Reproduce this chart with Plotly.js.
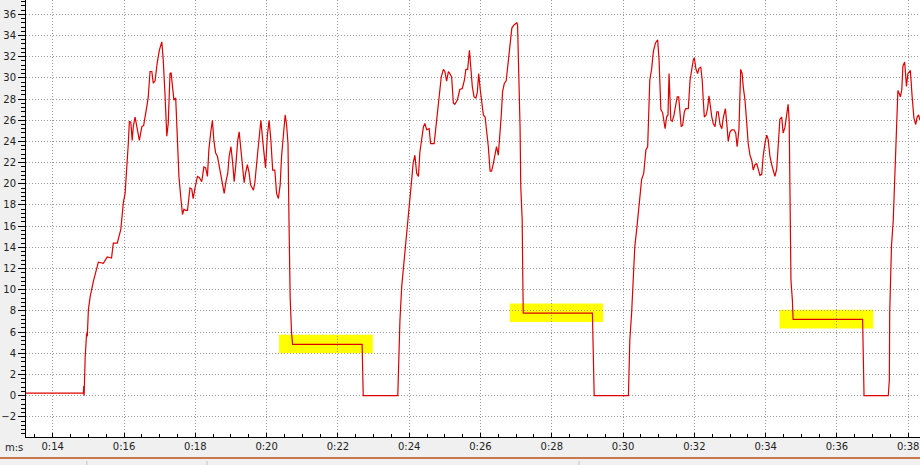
<!DOCTYPE html>
<html>
<head>
<meta charset="utf-8">
<script src="https://cdn.plot.ly/plotly-3.0.1.min.js"></script>
<style>html,body{margin:0;padding:0;background:#f0f0f0;}#chart{width:920px;height:465px;}</style>
</head>
<body>
<div id="chart"></div>
<script>
// time in seconds
const timeSec = [
13.25,14.86,14.87,14.88,14.91,14.95,14.97,15.00,15.05,15.14,15.28,15.42,15.53,15.65,15.70,15.81,15.91,15.98,16.03,16.08,16.12,16.15,16.19,16.23,16.26,16.31,16.37,16.43,16.50,16.55,16.64,16.68,16.73,16.78,16.82,16.87,16.93,16.99,17.06,17.10,17.15,17.20,17.24,17.29,17.32,17.37,17.40,17.45,17.50,17.54,17.59,17.64,17.68,17.73,17.78,17.85,17.90,17.94,17.99,18.06,18.11,18.18,18.24,18.29,18.34,18.38,18.43,18.48,18.52,18.57,18.62,18.67,18.74,18.81,18.86,18.91,18.95,19.00,19.05,19.09,19.14,19.19,19.23,19.27,19.32,19.37,19.41,19.46,19.51,19.55,19.63,19.67,19.74,19.80,19.84,19.89,19.94,19.97,20.02,20.07,20.12,20.17,20.23,20.28,20.33,20.38,20.42,20.47,20.52,20.56,20.60,20.63,20.66,20.70,20.73,
22.68,22.69,22.71,23.68,23.69,23.74,23.79,23.88,23.93,23.97,24.02,24.07,24.11,24.16,24.21,24.26,24.30,24.35,24.40,24.44,24.49,24.56,24.60,24.70,24.77,24.84,24.90,24.96,25.00,25.05,25.10,25.14,25.19,25.24,25.28,25.35,25.42,25.49,25.55,25.59,25.64,25.69,25.72,25.77,25.82,25.87,25.91,25.95,25.99,26.03,26.08,26.13,26.17,26.22,26.27,26.31,26.36,26.41,26.45,26.50,26.53,26.58,26.62,26.67,26.72,26.78,26.83,26.88,26.94,27.02,27.04,27.06,27.11,27.13,27.17,27.19,27.20,
29.14,29.16,29.19,30.15,30.17,30.19,30.24,30.29,30.33,30.38,30.43,30.47,30.52,30.58,30.64,30.69,30.72,30.75,30.80,30.85,30.91,30.97,31.01,31.04,31.06,31.11,31.16,31.18,31.22,31.26,31.29,31.32,31.34,31.38,31.43,31.48,31.52,31.56,31.60,31.63,31.67,31.72,31.76,31.83,31.88,31.92,31.97,32.00,32.04,32.09,32.13,32.18,32.22,32.25,32.28,32.33,32.37,32.41,32.44,32.49,32.53,32.58,32.63,32.67,32.72,32.77,32.81,32.87,32.91,32.95,33.00,33.05,33.11,33.16,33.20,33.25,33.30,33.34,33.37,33.42,33.47,33.51,33.56,33.61,33.65,33.70,33.75,33.79,33.84,33.89,33.93,33.98,34.03,34.07,34.12,34.17,34.21,34.26,34.31,34.35,34.40,34.45,34.49,34.54,34.59,34.63,34.66,34.68,34.71,34.75,34.77,
36.72,36.74,36.76,37.44,37.47,37.48,37.53,37.58,37.60,37.64,37.67,37.71,37.75,37.78,37.82,37.85,37.90,37.95,37.99,38.06,38.11,38.16,38.21,38.25,38.29,38.33
];
const values = [
0.25,0.25,0.9,0.0,3.6,5.9,5.6,8.1,9.35,10.8,12.6,12.5,13.1,13.0,14.4,14.4,15.7,18.2,19.1,21.3,23.8,25.9,25.8,24.1,25.4,26.3,25.1,24.1,25.4,25.5,27.3,28.2,30.6,30.6,29.5,29.7,31.4,32.6,33.4,31.7,28.4,24.5,25.7,30.4,30.5,28.9,27.9,28.1,23.8,20.7,18.8,17.1,17.6,17.5,17.5,19.6,19.5,18.6,19.6,20.7,20.6,20.2,21.6,21.5,20.7,23.2,24.8,26.0,24.1,22.9,22.6,21.6,20.4,19.1,20.2,21.0,22.6,23.5,21.9,20.2,21.9,24.1,24.9,23.5,21.9,20.1,21.0,21.8,21.0,19.9,19.4,20.1,22.6,25.1,26.0,24.1,22.6,21.5,24.5,26.0,24.1,21.3,21.3,19.1,18.6,19.9,22.6,24.5,26.5,25.6,23.8,16.0,9.35,5.9,4.85,
4.85,3.7,0,0,1.2,7.1,10.3,13.4,15.0,16.3,18.5,20.4,21.9,22.7,21.0,20.7,23.0,24.5,25.4,25.7,25.1,25.2,23.8,23.8,26.0,28.1,30.1,30.8,30.6,29.7,30.6,30.4,30.1,27.6,27.5,27.9,28.9,29.0,29.8,30.8,30.8,32.6,31.4,29.2,28.2,28.1,28.6,30.4,29.0,27.6,26.5,26.3,25.1,23.5,21.2,21.2,21.9,22.7,23.5,22.7,23.8,26.3,28.7,29.5,29.7,31.7,33.6,34.7,35.0,35.2,35.0,32.6,25.4,19.7,16.6,10.3,7.8,
7.8,4.3,0,0,1.8,5.3,7.8,10.9,14.1,15.6,17.5,18.6,20.4,21.0,23.2,23.5,26.7,29.8,30.8,32.5,33.3,33.6,31.7,29.2,27.0,26.7,25.7,25.2,26.3,26.5,30.4,28.2,26.0,25.9,26.5,27.5,28.2,28.2,26.3,25.4,25.5,26.8,27.1,27.1,29.8,30.9,31.7,31.9,30.9,30.4,30.9,31.0,29.8,27.9,26.3,26.5,27.1,28.3,27.3,26.3,25.7,25.4,26.8,26.8,25.6,25.2,26.2,27.1,25.7,24.0,24.9,25.1,25.1,24.8,23.5,25.1,30.8,30.4,29.2,27.9,25.7,23.8,22.7,22.2,21.3,21.8,21.9,21.3,20.8,20.9,22.6,23.8,24.6,24.2,22.6,21.8,21.3,20.7,21.4,23.6,26.1,26.3,24.8,25.3,26.5,27.5,26.0,19.4,10.9,9.0,7.2,
7.2,3.7,0,0,1.5,7.8,14.1,16.6,18.8,21.0,26.0,28.8,28.5,28.2,28.9,31.1,31.5,29.2,30.4,30.7,28.2,26.2,25.6,26.3,26.5,26.0
];
const tickSeconds = [14,16,18,20,22,24,26,28,30,32,34,36,38];
const tickLabels = ['0:14','0:16','0:18','0:20','0:22','0:24','0:26','0:28','0:30','0:32','0:34','0:36','0:38'];

// highlight rectangles derived from the flat plateaus in the data
const shapes = [];
for (let i = 0; i < timeSec.length - 1; i++) {
  if (values[i] > 1 && values[i] === values[i+1] && timeSec[i+1] - timeSec[i] > 1) {
    shapes.push({type:'rect', xref:'x', yref:'y', layer:'below',
      x0: timeSec[i] - 0.38, x1: timeSec[i+1] + 0.3,
      y0: values[i] - 0.85, y1: values[i] + 0.9,
      fillcolor:'#ffff00', line:{width:0}});
  }
}
// bottom status-bar style strip
shapes.push({type:'line', xref:'paper', yref:'paper', x0:-0.03, x1:1.01, y0:-0.048, y1:-0.048, line:{color:'#c8784a', width:2}});
[0.068, 0.2025, 0.6186].forEach(function(px){
  shapes.push({type:'line', xref:'paper', yref:'paper', x0:px, x1:px, y0:-0.055, y1:-0.07, line:{color:'#c4c4c4', width:1}});
});

const trace = {x: timeSec, y: values, type:'scatter', mode:'lines',
  line:{color:'#dd0000', width:1.2}, hoverinfo:'skip'};

const layout = {
  width:920, height:465,
  margin:{l:26, r:0, t:0, b:28},
  paper_bgcolor:'#f0f0f0', plot_bgcolor:'#ffffff',
  showlegend:false,
  font:{family:'DejaVu Sans', size:10, color:'#222'},
  xaxis:{range:[13.25,38.33], tickmode:'array', tickvals:tickSeconds, ticktext:tickLabels,
    showgrid:true, gridcolor:'#9a9a9a', griddash:'1px,2px', gridwidth:1,
    showline:true, linecolor:'#000', linewidth:1, zeroline:false,
    ticks:'inside', ticklen:4, tickcolor:'#000',
    minor:{tickmode:'linear', tick0:14, dtick:0.5, ticks:'inside', ticklen:3, tickcolor:'#000', showgrid:false},
    tickfont:{family:'DejaVu Sans', size:10, color:'#222'}},
  yaxis:{range:[-3.9,37.35], tickmode:'linear', tick0:0, dtick:2,
    showgrid:true, gridcolor:'#9a9a9a', griddash:'1px,2px', gridwidth:1,
    showline:true, linecolor:'#000', linewidth:1, zeroline:false,
    ticks:'outside', ticklen:7, tickcolor:'#000',
    minor:{tickmode:'linear', tick0:0, dtick:0.4, ticks:'outside', ticklen:4, tickcolor:'#000', showgrid:false},
    tickfont:{family:'DejaVu Sans', size:10, color:'#222'}},
  shapes: shapes,
  annotations:[{text:'m:s', xref:'paper', yref:'paper', x:-0.0134, y:-0.023, showarrow:false,
    xanchor:'center', yanchor:'middle', font:{family:'DejaVu Sans', size:10, color:'#222'}}]
};
Plotly.newPlot('chart', [trace], layout, {staticPlot:true, displayModeBar:false});
</script>
</body>
</html>
